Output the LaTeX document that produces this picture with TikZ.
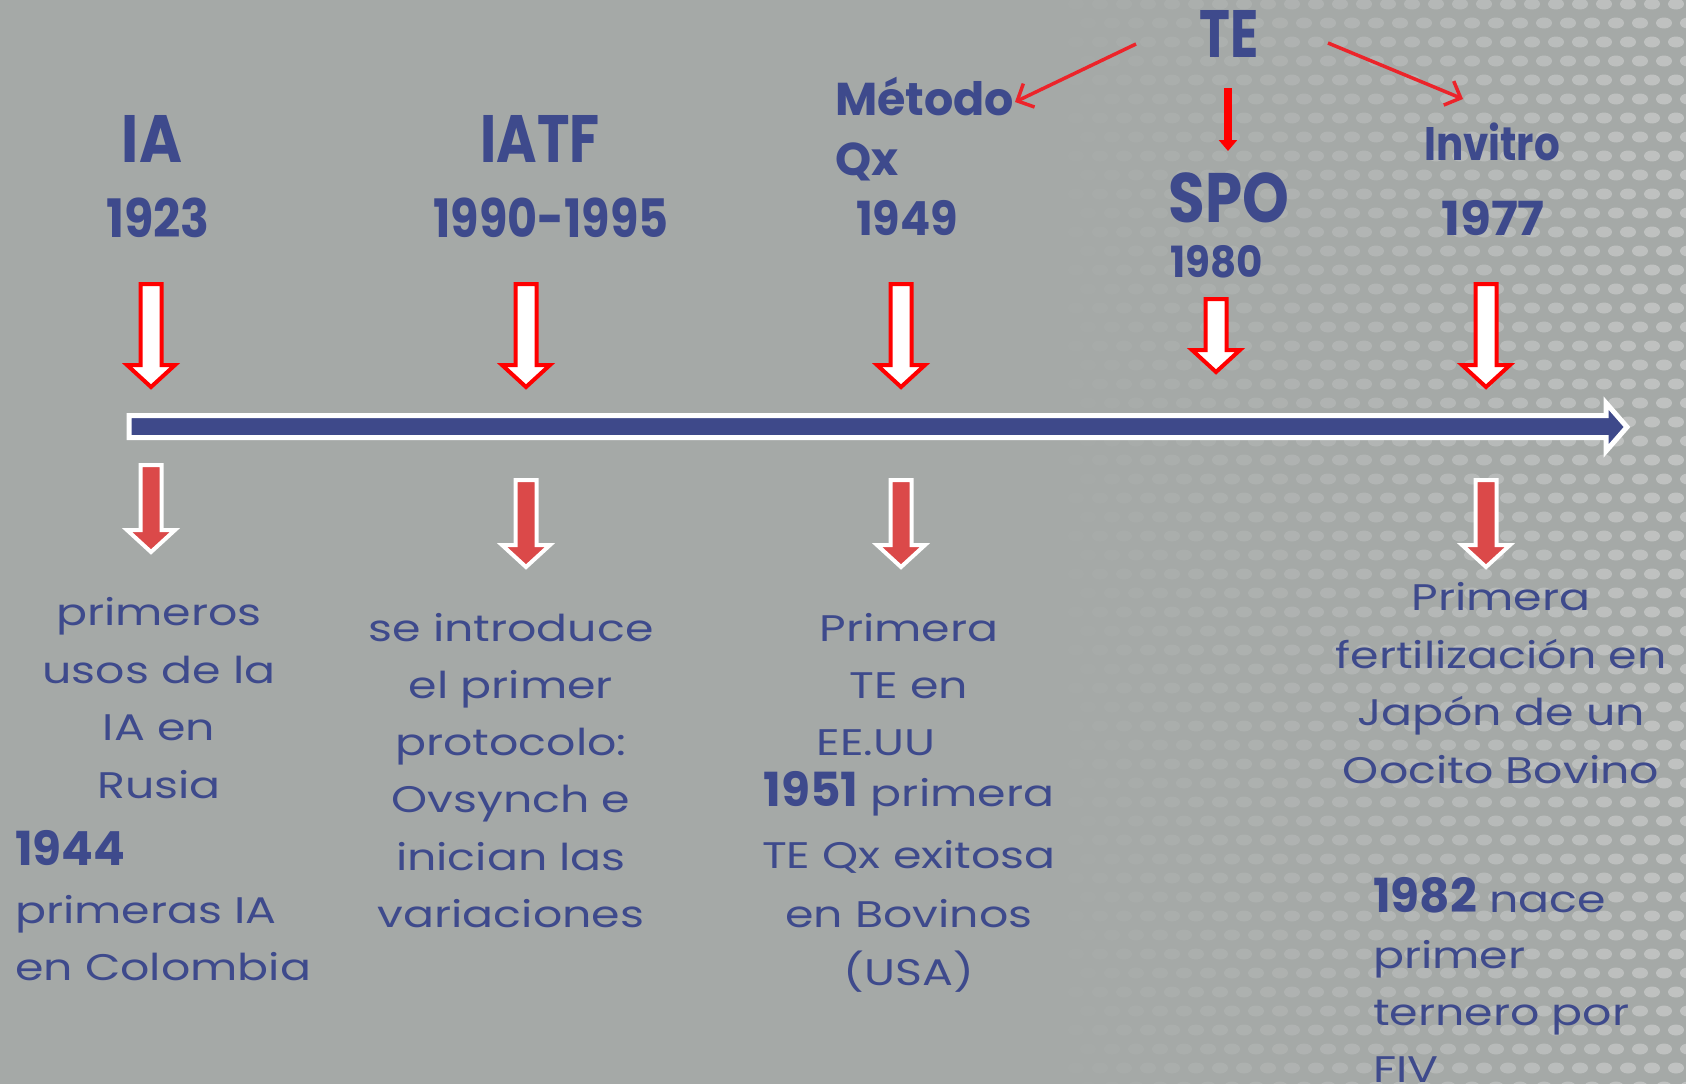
\documentclass[tikz,border=0pt]{standalone}
\usepackage{graphicx}
\usepackage{fontspec}
\setmainfont{Poppins}[FakeStretch=1.24]
\newfontfamily\hfont{Poppins}
\usetikzlibrary{arrows.meta}
\definecolor{bg}{RGB}{165,169,167}
\definecolor{tblue}{RGB}{62,74,140}
\definecolor{barblue}{RGB}{62,73,138}
\definecolor{lred}{RGB}{219,73,73}
\definecolor{tred}{RGB}{236,36,42}
\newcommand\fs[1]{\fontsize{#1}{#1}\selectfont}
\newcommand\sx[2]{\scalebox{#1}[1]{#2}}
\newcommand\uparr[4]{\draw[hollowarr] (#1-10.5,#2) -- (#1+10.5,#2) -- (#1+10.5,#3) -- (#1+24,#3) -- (#1,#4) -- (#1-24,#3) -- (#1-10.5,#3) -- cycle;}
\newcommand\dnarr[4]{\draw[solidarr] (#1-10.5,#2) -- (#1+10.5,#2) -- (#1+10.5,#3) -- (#1+24,#3) -- (#1,#4) -- (#1-24,#3) -- (#1-10.5,#3) -- cycle;}
\tikzset{
  hd/.style={text=tblue, font=\hfont\bfseries\fs{67}, inner sep=0pt, anchor=base},
  yr/.style={text=tblue, font=\hfont\bfseries\fs{53}, inner sep=0pt, anchor=base},
  body/.style={text=tblue, font=\fs{37}, inner sep=0pt, anchor=base},
  bodyl/.style={body, anchor=base west},
  hollowarr/.style={draw=red, fill=white, line width=4pt, miter limit=10},
  solidarr/.style={draw=white, fill=lred, line width=4pt, miter limit=10},
  thinarr/.style={draw=tred, line width=3.5pt, -{Straight Barb[length=13pt,width=26pt]}},
}
\newcommand\byr[1]{{\hfont\bfseries\fs{47}#1}}
\begin{document}
\begin{tikzpicture}[x=1pt,y=-1pt]
\useasboundingbox (0,0) rectangle (1686,1084);
\clip (0,0) rectangle (1686,1084);
\fill[bg] (0,0) rectangle (1686,1084);
% dotted texture on the right
\foreach \i in {0,...,29}{\foreach \j in {0,...,57}{
  \pgfmathsetmacro\xx{980+\i*24+mod(\j,2)*12}
  \pgfmathsetmacro\op{max(0,(\i-3)/26)*0.3}
  \fill[white, opacity=\op] (\xx,\j*19+4) ellipse (8 and 5.5);
}}
% headings
\node[hd] (ia) at (152,162) {\sx{0.87}{IA}};
\node[yr] (y1923) at (158,237) {\sx{0.9}{1923}};
\node[hd] (iatf) at (540,162) {\sx{0.82}{IATF}};
\node[yr] (y1990) at (551,237) {\sx{0.87}{1990-1995}};
\node[hd, font=\hfont\bfseries\fs{46}, anchor=base west] (metodo) at (835,115) {Método};
\node[hd, font=\hfont\bfseries\fs{46}, anchor=base west] (qx) at (835,175) {Qx};
\node[yr, font=\hfont\bfseries\fs{47}] (y1949) at (907,235) {\sx{0.95}{1949}};
\node[hd] (te) at (1229,57) {\sx{0.78}{TE}};
\node[hd, font=\hfont\bfseries\fs{70}] (spo) at (1229,222) {\sx{0.85}{SPO}};
\node[yr, font=\hfont\bfseries\fs{43}] (y1980) at (1217,277) {\sx{0.94}{1980}};
\node[hd, font=\hfont\bfseries\fs{47}] (invitro) at (1492,160) {\sx{0.86}{Invitro}};
\node[yr, font=\hfont\bfseries\fs{47}] (y1977) at (1493,235) {\sx{1.07}{1977}};
% thin red arrows from TE
\coordinate (teA) at (1136,44);
\coordinate (teB) at (1228,88);
\coordinate (teC) at (1328,43);
\coordinate (toMet) at (1015,102);
\coordinate (toSpo) at (1228,151);
\coordinate (toInv) at (1463,99);
\draw[thinarr] (teA) -- (toMet);
\draw[draw=red, line width=7.5pt, -{Triangle[length=11pt,width=18pt]}] (teB) -- (toSpo);
\draw[thinarr] (teC) -- (toInv);
% upper hollow arrows
\uparr{151}{284}{365}{387}
\uparr{526}{284}{365}{387}
\uparr{901}{284}{365}{387}
\uparr{1216}{299}{350}{372}
\uparr{1486}{284}{365}{387}
% timeline
\draw[draw=white, fill=barblue, line width=5pt, miter limit=10]
  (129,415.5) -- (1606,415.5) -- (1606,403) -- (1627,427) -- (1606,451) -- (1606,437.5) -- (129,437.5) -- cycle;
% lower solid arrows
\dnarr{151}{465}{530}{552}
\dnarr{526}{480}{545}{567}
\dnarr{901}{480}{545}{567}
\dnarr{1486}{480}{545}{567}
% column 1
\node[body] (a1) at (159,625) {primeros};
\node[body] (a2) at (159,683) {usos de la};
\node[body] (a3) at (159,740) {IA en};
\node[body] (a4) at (159,798) {Rusia};
\node[bodyl] (a5) at (15,865) {\byr{1944}};
\node[bodyl] (a6) at (15,923) {primeras IA};
\node[bodyl] (a7) at (15,980) {en Colombia};
% column 2
\node[body] (b1) at (511,641) {se introduce};
\node[body] (b2) at (511,698) {el primer};
\node[body] (b3) at (511,755) {protocolo:};
\node[body] (b4) at (511,812) {Ovsynch e};
\node[body] (b5) at (511,870) {inician las};
\node[body] (b6) at (511,927) {variaciones};
% column 3
\node[body] (c1) at (909,641) {Primera};
\node[body] (c2) at (909,698) {TE en};
\node[body] (c3) at (876,755) {EE.UU};
\node[body] (c4) at (909,806) {\byr{1951} primera};
\node[body] (c5) at (909,868) {TE Qx exitosa};
\node[body] (c6) at (909,927) {en Bovinos};
\node[body] (c7) at (909,985) {(USA)};
% column 4
\node[body] (d1) at (1501,610) {Primera};
\node[body] (d2) at (1501,668) {fertilización en};
\node[body] (d3) at (1501,725) {Japón de un};
\node[body] (d4) at (1501,783) {Oocito Bovino};
\node[bodyl] (d5) at (1373,912) {\byr{1982} nace};
\node[bodyl] (d6) at (1373,968) {primer};
\node[bodyl] (d7) at (1373,1025) {ternero por};
\node[bodyl] (d8) at (1373,1082) {FIV};
\end{tikzpicture}
\end{document}
